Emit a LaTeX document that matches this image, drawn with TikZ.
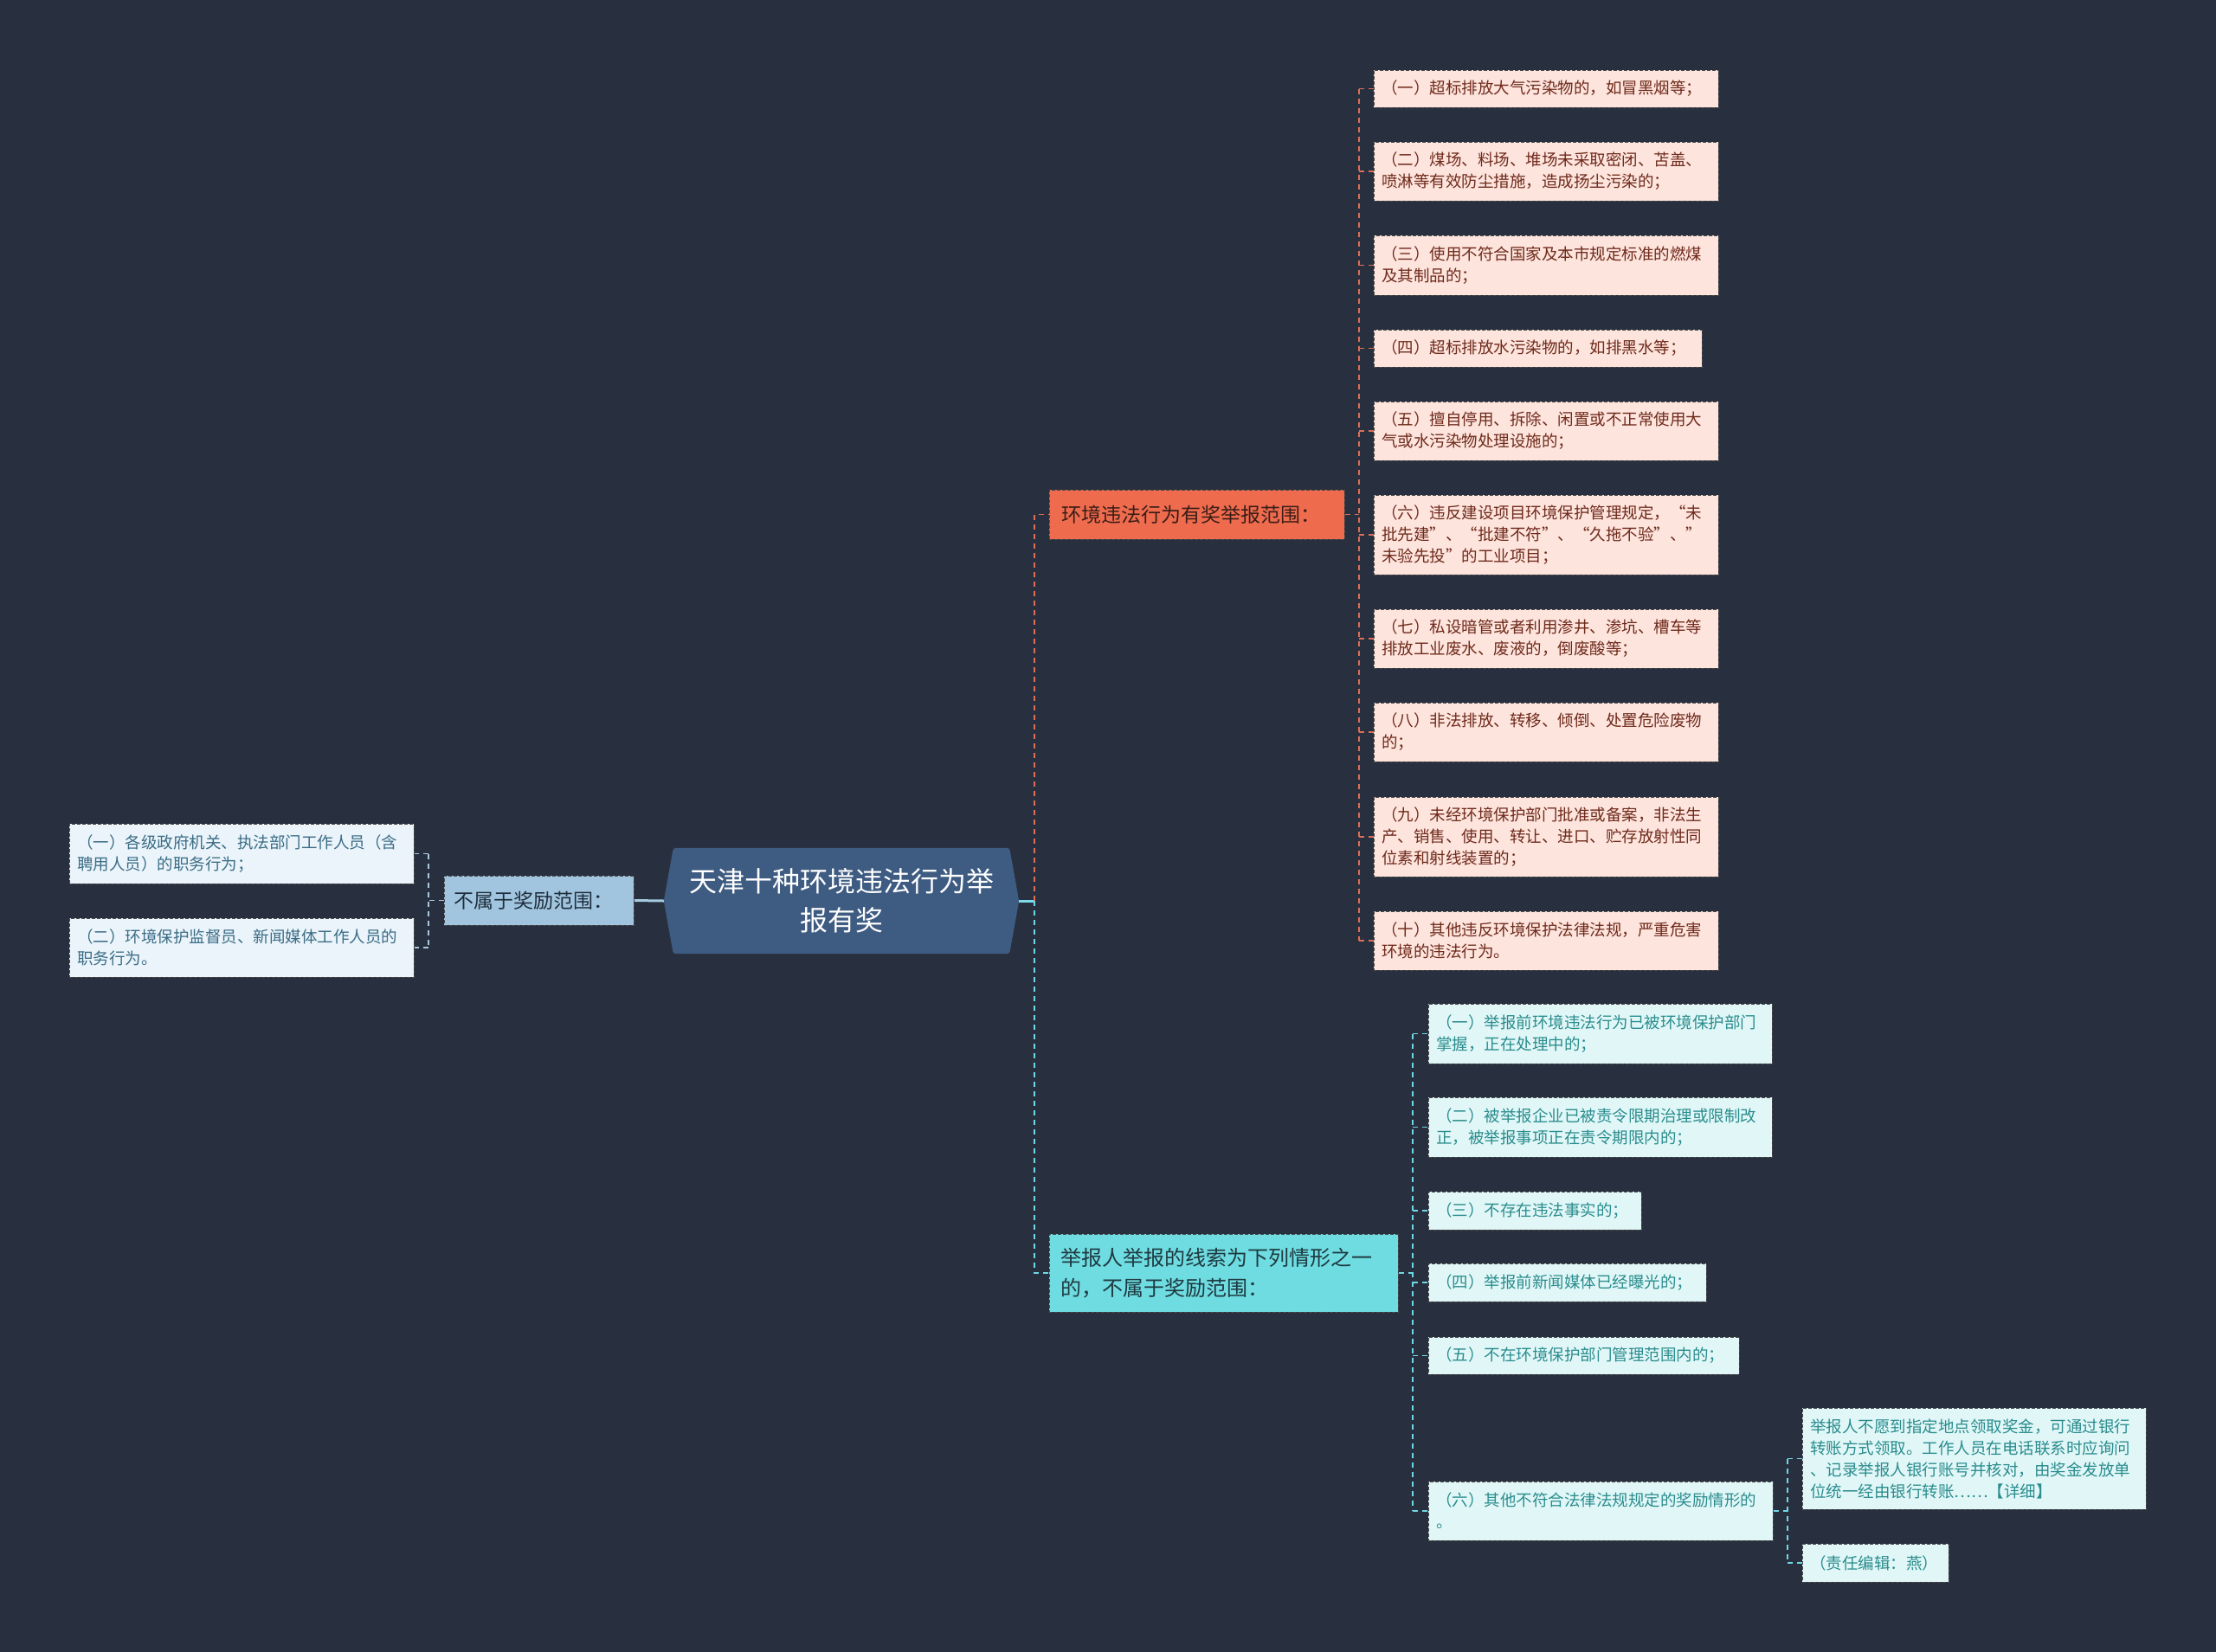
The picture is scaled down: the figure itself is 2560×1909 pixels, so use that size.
\documentclass[tikz,border=0pt]{standalone}
\usepackage{fontspec}
\setmainfont{Noto Sans CJK SC}
\pgfdeclarelayer{bg}
\pgfsetlayers{bg,main}
\definecolor{bgc}{HTML}{28303F}
\definecolor{rootc}{HTML}{3E5B82}
\definecolor{redb}{HTML}{EE6B4E}
\definecolor{redbt}{HTML}{3A1D16}
\definecolor{redlt}{HTML}{FDE4DD}
\definecolor{redtx}{HTML}{6F2A1B}
\definecolor{redln}{HTML}{DE6E55}
\definecolor{cyb}{HTML}{6EDCE1}
\definecolor{cybt}{HTML}{1E3A40}
\definecolor{cylt}{HTML}{E1F7F7}
\definecolor{cytx}{HTML}{2A8C8E}
\definecolor{cyln}{HTML}{6FD8E4}
\definecolor{lfb}{HTML}{A2C5DF}
\definecolor{lfbt}{HTML}{1E2E3C}
\definecolor{lflt}{HTML}{EAF4FA}
\definecolor{lftx}{HTML}{3B6C86}
\definecolor{lfln}{HTML}{A9C8DC}
\definecolor{bordc}{HTML}{4A4A4A}
\definecolor{rootr}{HTML}{7ADCEB}
\definecolor{rootl}{HTML}{A4CBE0}
\newcommand\mmbox[8]{%
  \pgfmathsetmacro\mmw{#5-#3}\pgfmathsetmacro\mmh{#6-#4}%
  \pgfmathsetmacro\mmt{#5-#3-2*#7}%
  \pgfmathsetmacro\mmcx{(#3+#5)/2}\pgfmathsetmacro\mmcy{(#4+#6)/2}%
  \node[#2, minimum width=\mmw pt, minimum height=\mmh pt, text width=\mmt pt, inner xsep=#7pt] (#1) at (\mmcx,\mmcy) {#8};}
\tikzset{
  box/.style={rectangle, draw=bordc, line width=1pt, dash pattern=on 4pt off 2pt, align=left, inner ysep=0pt},
  rch/.style={box, fill=redlt, text=redtx, font=\fontsize{18.5}{25}\selectfont},
  cch/.style={box, fill=cylt, text=cytx, font=\fontsize{18.5}{25}\selectfont},
  lch/.style={box, fill=lflt, text=lftx, font=\fontsize{18.5}{25}\selectfont},
  rbr/.style={box, fill=redb, text=redbt, font=\fontsize{23}{33}\selectfont},
  cbr/.style={box, fill=cyb, text=cybt, font=\fontsize{24}{35}\selectfont},
  lbr/.style={box, fill=lfb, text=lfbt, font=\fontsize{23}{33}\selectfont},
  conn/.style={line width=1.6pt, dash pattern=on 6pt off 5pt},
  redc/.style={conn, draw=redln},
  cyc/.style={conn, draw=cyln},
  lfc/.style={conn, draw=lfln},
}
\begin{document}
\begin{tikzpicture}[x=1pt,y=-1pt]
\begin{pgfonlayer}{bg}
\fill[bgc] (0,0) rectangle (2560,1909);
\end{pgfonlayer}
\useasboundingbox (0,0) rectangle (2560,1909);

% root
\node[minimum width=410pt, minimum height=122pt, inner sep=0pt, text=white, align=center,
      font=\fontsize{32}{45}\selectfont] (root) at (972,1041) {天津十种环境违法行为举\\报有奖};
\begin{pgfonlayer}{bg}
\fill[rootc, rounded corners=3pt] ([xshift=11pt]root.north west) -- ([xshift=-11pt]root.north east)
  -- (root.east) -- ([xshift=-11pt]root.south east) -- ([xshift=11pt]root.south west) -- (root.west) -- cycle;
\end{pgfonlayer}

% branches
\mmbox{rb}{rbr}{1212}{566}{1553}{623}{14}{环境违法行为有奖举报范围：}
\mmbox{cb}{cbr}{1212}{1426}{1615}{1516}{13}{举报人举报的线索为下列情形之一\\的，不属于奖励范围：}
\mmbox{lb}{lbr}{513}{1012}{732}{1069}{11}{不属于奖励范围：}

% red children
\mmbox{r1}{rch}{1587}{81}{1985}{124}{9}{（一）超标排放大气污染物的，如冒黑烟等；}
\mmbox{r2}{rch}{1587}{164}{1985}{232}{9}{（二）煤场、料场、堆场未采取密闭、苫盖、\\喷淋等有效防尘措施，造成扬尘污染的；}
\mmbox{r3}{rch}{1587}{272}{1985}{341}{9}{（三）使用不符合国家及本市规定标准的燃煤\\及其制品的；}
\mmbox{r4}{rch}{1587}{381}{1966}{424}{9}{（四）超标排放水污染物的，如排黑水等；}
\mmbox{r5}{rch}{1587}{464}{1985}{532}{9}{（五）擅自停用、拆除、闲置或不正常使用大\\气或水污染物处理设施的；}
\mmbox{r6}{rch}{1587}{572}{1985}{664}{9}{（六）违反建设项目环境保护管理规定，“未\\批先建”、“批建不符”、“久拖不验”、”\\未验先投”的工业项目；}
\mmbox{r7}{rch}{1587}{704}{1985}{772}{9}{（七）私设暗管或者利用渗井、渗坑、槽车等\\排放工业废水、废液的，倒废酸等；}
\mmbox{r8}{rch}{1587}{812}{1985}{880}{9}{（八）非法排放、转移、倾倒、处置危险废物\\的；}
\mmbox{r9}{rch}{1587}{921}{1985}{1013}{9}{（九）未经环境保护部门批准或备案，非法生\\产、销售、使用、转让、进口、贮存放射性同\\位素和射线装置的；}
\mmbox{r10}{rch}{1587}{1053}{1985}{1121}{9}{（十）其他违反环境保护法律法规，严重危害\\环境的违法行为。}

% cyan children
\mmbox{c1}{cch}{1650}{1160}{2047}{1229}{9}{（一）举报前环境违法行为已被环境保护部门\\掌握，正在处理中的；}
\mmbox{c2}{cch}{1650}{1268}{2047}{1337}{9}{（二）被举报企业已被责令限期治理或限制改\\正，被举报事项正在责令期限内的；}
\mmbox{c3}{cch}{1650}{1377}{1896}{1421}{9}{（三）不存在违法事实的；}
\mmbox{c4}{cch}{1650}{1460}{1971}{1504}{9}{（四）举报前新闻媒体已经曝光的；}
\mmbox{c5}{cch}{1650}{1545}{2009}{1588}{9}{（五）不在环境保护部门管理范围内的；}
\mmbox{c6}{cch}{1650}{1712}{2048}{1780}{9}{（六）其他不符合法律法规规定的奖励情形的\\。}
\mmbox{d1}{cch}{2082}{1627}{2479}{1744}{9}{举报人不愿到指定地点领取奖金，可通过银行\\转账方式领取。工作人员在电话联系时应询问\\、记录举报人银行账号并核对，由奖金发放单\\位统一经由银行转账……【详细】}
\mmbox{d2}{cch}{2082}{1784}{2251}{1828}{9}{（责任编辑：燕）}

% left children
\mmbox{l1}{lch}{80}{952}{478}{1021}{9}{（一）各级政府机关、执法部门工作人员（含\\聘用人员）的职务行为；}
\mmbox{l2}{lch}{80}{1061}{478}{1129}{9}{（二）环境保护监督员、新闻媒体工作人员的\\职务行为。}

% connector coordinates
\coordinate (tv) at (1195,0);
\coordinate (rv) at (1570,0);
\coordinate (cv) at (1632,0);
\coordinate (dv) at (2065,0);
\coordinate (lv) at (495,0);

\begin{pgfonlayer}{bg}
% root connectors
\draw[rootr, line width=3pt] (root.east) -- (root.east -| tv);
\draw[rootl, line width=3pt] (root.west) -- (lb.east);
\draw[redc] (root.east -| tv) |- (rb.west);
\draw[cyc] (root.east -| tv) |- (cb.west);

% red branch
\draw[redc] (rb.east) -- (rb.east -| rv);
\draw[redc] (rv |- r1.west) -- (rv |- r10.west);
\foreach \n in {r1,r2,r3,r4,r5,r6,r7,r8,r9,r10}
  \draw[redc] (rv |- \n.west) -- (\n.west);

% cyan branch
\draw[cyc] (cb.east) -- (cb.east -| cv);
\draw[cyc] (cv |- c1.west) -- (cv |- c6.west);
\foreach \n in {c1,c2,c3,c4,c5,c6}
  \draw[cyc] (cv |- \n.west) -- (\n.west);
\draw[cyc] (c6.east) -- (c6.east -| dv);
\draw[cyc] (dv |- d1.west) -- (dv |- d2.west);
\foreach \n in {d1,d2}
  \draw[cyc] (dv |- \n.west) -- (\n.west);

% left branch
\draw[lfc] (lb.west) -- (lb.west -| lv);
\draw[lfc] (lv |- l1.east) -- (lv |- l2.east);
\foreach \n in {l1,l2}
  \draw[lfc] (lv |- \n.east) -- (\n.east);
\end{pgfonlayer}
\end{tikzpicture}
\end{document}
